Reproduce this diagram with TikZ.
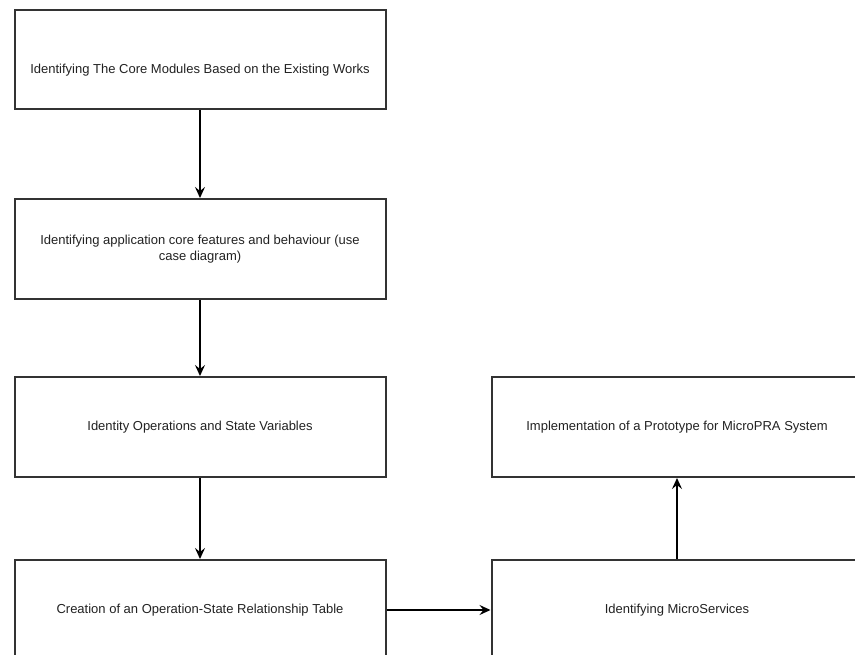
\documentclass[tikz,border=0pt]{standalone}
\usepackage{fontspec}
\setmainfont{Liberation Sans}
\usetikzlibrary{arrows.meta}
\definecolor{boxline}{HTML}{333333}
\definecolor{labeltext}{HTML}{222222}
\begin{document}
\begin{tikzpicture}[x=1pt,y=-1pt,
  labelfont/.style={font=\fontsize{13}{16.5}\selectfont,text=labeltext},
  stepbox/.style={draw=boxline,line width=2pt,fill=white,
    minimum width=371pt,minimum height=100pt,inner sep=0pt,
    align=center,labelfont},
  flow/.style={draw=black,line width=2pt,
    -{Stealth[length=11pt,width=10pt,inset=4pt]}}]
\path[use as bounding box,clip] (0,0) rectangle (855,655);
\fill[white] (0,0) rectangle (855,655);

% left column
\node[stepbox,minimum height=99pt] (core) at (200,59.5) {};
\node[labelfont] (coretext) at (200,70)
  {Identifying The Core Modules Based on the Existing Works};
\node[stepbox] (features) at (200,249)
  {Identifying application core features and behaviour (use\\case diagram)};
\node[stepbox] (ops) at (200,427) {Identity Operations and State Variables};
\node[stepbox] (table) at (200,610) {Creation of an Operation-State Relationship Table};

% right column
\node[stepbox] (proto) at (677,427) {Implementation of a Prototype for MicroPRA System};
\node[stepbox] (micro) at (677,610) {Identifying MicroServices};

% connectors
\draw[flow] (core.south) -- (features.north);
\draw[flow] (features.south) -- (ops.north);
\draw[flow] (ops.south) -- (table.north);
\draw[flow] (table.east) -- (micro.west);
\draw[flow] (micro.north) -- (proto.south);
\end{tikzpicture}
\end{document}
